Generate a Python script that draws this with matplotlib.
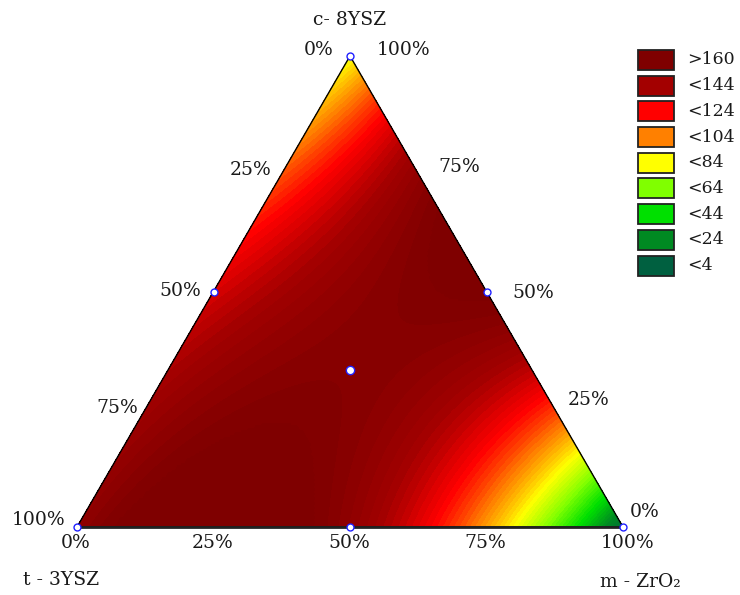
import numpy as np
import matplotlib
matplotlib.use("Agg")
import matplotlib.pyplot as plt
import matplotlib.tri as mtri
from matplotlib.colors import LinearSegmentedColormap
from matplotlib.patches import Rectangle

plt.rcParams['font.family'] = ['DejaVu Serif', 'DejaVu Sans']

# Components (barycentric order: t-3YSZ, c-8YSZ, m-ZrO2)
components = ["t - 3YSZ", "c- 8YSZ", "m - ZrO\u2082"]

# Measured response at the simplex-centroid design points
y_vertex = {"t": 152.0, "c": 82.0, "m": 10.0}
y_binary = {"tc": 132.0, "cm": 162.0, "tm": 152.0}
y_center = 157.0

# Legend classes and their colours
legend_labels = [">160", "<144", "<124", "<104", "<84", "<64", "<44", "<24", "<4"]
legend_colors = ["#7f0000", "#a30000", "#ff0000", "#ff8000", "#ffff00",
                 "#80ff00", "#00e000", "#008a22", "#006040"]
legend_values = [160, 144, 124, 104, 84, 64, 44, 24, 4]

# Tick labels along the three edges
tick_fracs = [0.0, 0.25, 0.5, 0.75, 1.0]
tick_labels = ["0%", "25%", "50%", "75%", "100%"]

# Scheffe special-cubic coefficients
b_t, b_c, b_m = y_vertex["t"], y_vertex["c"], y_vertex["m"]
b_tc = 4 * y_binary["tc"] - 2 * (b_t + b_c)
b_cm = 4 * y_binary["cm"] - 2 * (b_c + b_m)
b_tm = 4 * y_binary["tm"] - 2 * (b_t + b_m)
b_tcm = (27 * y_center - 12 * (y_binary["tc"] + y_binary["cm"] + y_binary["tm"])
         + 3 * (b_t + b_c + b_m))


def response(t, c, m):
    return (b_t * t + b_c * c + b_m * m + b_tc * t * c + b_cm * c * m
            + b_tm * t * m + b_tcm * t * c * m)


H = np.sqrt(3) / 2


def to_xy(t, c, m):
    return m + c / 2.0, c * H


# Fine barycentric grid
n = 200
pts = [(i / n, j / n) for i in range(n + 1) for j in range(n + 1 - i)]
c_g = np.array([p[0] for p in pts])
m_g = np.array([p[1] for p in pts])
t_g = np.clip(1 - c_g - m_g, 0, 1)
xg, yg = to_xy(t_g, c_g, m_g)
zg = response(t_g, c_g, m_g)
tri = mtri.Triangulation(xg, yg)

vals = sorted(legend_values)
cols = [legend_colors[legend_values.index(v)] for v in vals]
lo, hi = vals[0], vals[-1]
cmap = LinearSegmentedColormap.from_list(
    "resp", [((v - lo) / (hi - lo), col) for v, col in zip(vals, cols)])

W, Hpx = 740, 595
fig = plt.figure(figsize=(W / 100, Hpx / 100), dpi=100)
x0, x1, ytop, ybot = 77, 623, 56, 527
ax = fig.add_axes([x0 / W, (Hpx - ybot) / Hpx, (x1 - x0) / W, (ybot - ytop) / Hpx])
ax.set_xlim(0, 1)
ax.set_ylim(0, H)
ax.axis("off")

levels = np.arange(0, 200, 2.5)
ax.tricontourf(tri, np.clip(zg, lo, hi), levels=levels, cmap=cmap, vmin=lo, vmax=hi,
               antialiased=False)

# Triangle outline
ox = [0, 1, 0.5, 0]
oy = [0, 0, H, 0]
ax.plot(ox, oy, color="black", lw=1.0, clip_on=False, zorder=5)
ax.plot([0, 1], [0, 0], color="#222222", lw=2.0, clip_on=False, zorder=5)

# Design points
design = [(1, 0, 0), (0, 1, 0), (0, 0, 1), (0.5, 0.5, 0), (0, 0.5, 0.5),
          (0.5, 0, 0.5), (1 / 3, 1 / 3, 1 / 3)]
for t, c, m in design:
    px, py = to_xy(t, c, m)
    ax.plot(px, py, marker="o", ms=5 if (t, c, m) != design[-1] else 6,
            mfc="white", mec="#2020ff", mew=1.0, clip_on=False, zorder=6)

fs = 13.5
fs_leg = 12.5
tc = "#1a1a1a"
pt = 0.72


def lab(text, t, c, m, dx, dy):
    px, py = to_xy(t, c, m)
    ax.annotate(text, (px, py), xytext=(dx * pt, -dy * pt), textcoords="offset points",
                ha="center", va="center", fontsize=fs, color=tc, annotation_clip=False)


# Left edge: t-3YSZ fraction (0 at top, 100% at bottom-left)
left_off = {0.25: (-31, -4), 0.5: (-33, -1), 0.75: (-28, -1), 1.0: (-38, -7)}
for f, s in zip(tick_fracs, tick_labels):
    if f in left_off:
        lab(s, f, 1 - f, 0, *left_off[f])
lab(tick_labels[0], 0, 1, 0, -31, -6)

# Bottom edge: m-ZrO2 fraction
for f, s in zip(tick_fracs, tick_labels):
    lab(s, 1 - f, 0, f, -1 if f < 1 else 5, 16)

# Right edge: c-8YSZ fraction
right_off = {1.0: (54, -6), 0.75: (41, -7), 0.5: (47, 2), 0.25: (34, -9), 0.0: (22, -15)}
for f, s in zip(tick_fracs, tick_labels):
    lab(s, 0, f, 1 - f, *right_off[f])

# Component names at the vertices
lab(components[1], 0, 1, 0, 0, -36)
lab(components[0], 1, 0, 0, -16, 53)
lab(components[2], 0, 0, 1, 17, 55)

# Legend
for i, (lbl, col) in enumerate(zip(legend_labels, legend_colors)):
    yb = 50 + i * 25.7
    fig.patches.append(Rectangle((638 / W, 1 - (yb + 20) / Hpx), 36 / W, 20 / Hpx,
                                 transform=fig.transFigure, facecolor=col,
                                 edgecolor="#222222", lw=1.3))
    fig.text(687 / W, 1 - (yb + 10) / Hpx, lbl, fontsize=fs_leg, color=tc,
             ha="left", va="center")

fig.savefig("out.png", dpi=100, facecolor="white")
